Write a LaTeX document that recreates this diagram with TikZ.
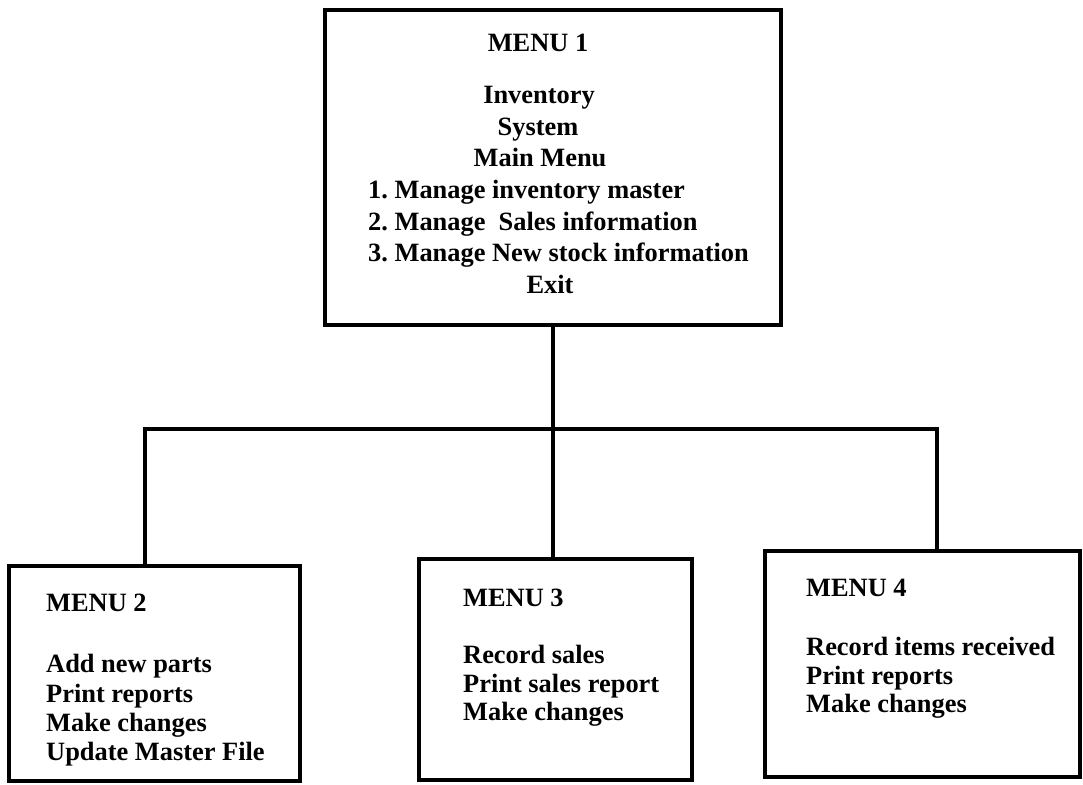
\documentclass[tikz,border=0pt]{standalone}
\usepackage{fontspec}
\setmainfont{Liberation Serif}
\frenchspacing
\begin{document}
\begin{tikzpicture}[x=1pt,y=-1pt,
  menubox/.style={draw=black,line width=4.5pt,inner sep=0pt,fill=none},
  wire/.style={draw=black,line width=3.8pt},
  txt/.style={inner sep=0pt,font=\fontsize{26.4}{32}\selectfont\bfseries}]
\useasboundingbox (0,0) rectangle (1083,784);

% menu boxes
\node[menubox,minimum width=456pt,minimum height=315pt] (m1) at (553,167.5) {};
\node[menubox,minimum width=291pt,minimum height=215pt] (m2) at (154.5,673.5) {};
\node[menubox,minimum width=273pt,minimum height=221pt] (m3) at (555.5,669.5) {};
\node[menubox,minimum width=315pt,minimum height=226pt] (m4) at (922.5,664) {};

% main menu text
\node[txt,anchor=base] (m1title) at (538,52)  {MENU 1};
\node[txt,anchor=base] (m1a)     at (539,103) {Inventory};
\node[txt,anchor=base] (m1b)     at (538,135) {System};
\node[txt,anchor=base] (m1c)     at (540,166) {Main Menu};
\node[txt,anchor=base west] (m1d) at (368,198) {1. Manage inventory master};
\node[txt,anchor=base west] (m1e) at (368,230) {2. Manage~ Sales information};
\node[txt,anchor=base west] (m1f) at (368,261) {3. Manage New stock information};
\node[txt,anchor=base] (m1g)     at (550,293) {Exit};

% sub menu 2
\node[txt,anchor=base west] (m2title) at (46,611) {MENU 2};
\node[txt,anchor=base west] (m2a) at (46,672) {Add new parts};
\node[txt,anchor=base west] (m2b) at (46,702) {Print reports};
\node[txt,anchor=base west] (m2c) at (46,731) {Make changes};
\node[txt,anchor=base west] (m2d) at (46,760) {Update Master File};

% sub menu 3
\node[txt,anchor=base west] (m3title) at (463,606) {MENU 3};
\node[txt,anchor=base west] (m3a) at (463,663) {Record sales};
\node[txt,anchor=base west] (m3b) at (463,692) {Print sales report};
\node[txt,anchor=base west] (m3c) at (463,720) {Make changes};

% sub menu 4
\node[txt,anchor=base west] (m4title) at (806,596) {MENU 4};
\node[txt,anchor=base west] (m4a) at (806,655) {Record items received};
\node[txt,anchor=base west] (m4b) at (806,684) {Print reports};
\node[txt,anchor=base west] (m4c) at (806,712) {Make changes};

% tree connectors
\coordinate (busL) at (145,429);
\coordinate (busR) at (937,429);
\draw[wire] (m1.south) -- (m1.south |- m3.north);
\draw[wire] (m2.north -| busL) -- (busL) -- (busR) -- (m4.north -| busR);
\end{tikzpicture}
\end{document}
